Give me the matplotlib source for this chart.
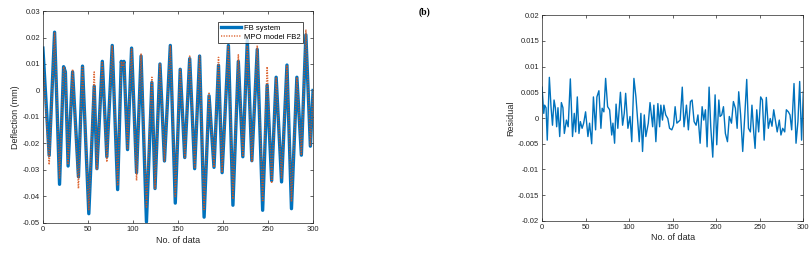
import matplotlib
matplotlib.use("Agg")
import matplotlib.pyplot as plt
from matplotlib.ticker import FuncFormatter

plt.rcParams['font.family'] = ['Liberation Sans', 'DejaVu Sans']
plt.rcParams['axes.unicode_minus'] = False

# ---- Panel (a): deflection (extrema) ----
fb_x = [0, 7, 13, 18.5, 23, 25, 28, 33, 39.5, 44, 51, 57, 60, 66, 71, 77, 83, 87, 88.5, 90,
        94, 98.5, 104, 109, 115, 121, 124.5, 130, 135, 141.5, 147, 152.5, 157.5, 163, 168.5,
        174, 179, 184.5, 190, 195, 199, 206, 211, 217, 222, 227, 232, 238, 244, 249, 254,
        259, 265, 271, 276, 282, 287, 292, 297, 300]
fb_system = [0.016, -0.0245, 0.022, -0.0354, 0.009, 0.007, -0.0285, 0.007, -0.0326, 0.0092,
             -0.0465, 0.0016, -0.0295, 0.011, -0.025, 0.017, -0.0374, 0.011, 0.009, 0.011,
             -0.0223, 0.016, -0.031, 0.013, -0.0496, 0.003, -0.037, 0.010, -0.0266, 0.017,
             -0.0425, 0.008, -0.0253, 0.012, -0.0295, 0.013, -0.0478, -0.002, -0.029, 0.0095,
             -0.031, 0.017, -0.0433, 0.011, -0.025, 0.019, -0.0265, 0.0155, -0.0452, 0.002,
             -0.034, 0.005, -0.0345, 0.0096, -0.0446, 0.005, -0.0244, 0.021, -0.021, 0.0]
mpo_model = [0.012, -0.028, 0.022, -0.033, 0.009, 0.007, -0.028, 0.008, -0.037, 0.0092,
             -0.045, 0.007, -0.030, 0.011, -0.027, 0.017, -0.036, 0.011, 0.009, 0.011,
             -0.0223, 0.016, -0.034, 0.014, -0.044, 0.005, -0.037, 0.010, -0.0266, 0.017,
             -0.040, 0.008, -0.0253, 0.013, -0.0295, 0.013, -0.045, -0.001, -0.029, 0.0125,
             -0.031, 0.017, -0.041, 0.0135, -0.025, 0.017, -0.027, 0.017, -0.042, 0.009,
             -0.035, 0.005, -0.033, 0.0096, -0.042, 0.005, -0.0244, 0.023, -0.021, 0.0]

# ---- Panel (b): residual ----
res_x = [0, 2, 3, 4.6, 6, 8.4, 10.3, 12, 13.8, 15.3, 16.8, 18.3, 20.3, 22.2, 24, 25.6, 28, 30,
         32.5, 35, 37, 38.6, 40.5, 42.4, 44, 46, 47.8, 50, 52.7, 54.6, 57, 59, 61.5, 63, 65.3,
         67.6, 69, 71, 73, 75.3, 77.6, 80, 81.4, 83.3, 85, 87, 90, 92.5, 94.4, 96, 98.6, 101,
         103, 105.5, 107.8, 109.7, 111.6, 113.5, 115.4, 117.4, 119.2, 122, 124, 127, 128.4,
         130.7, 133, 135, 136.4, 138.3, 139.9, 142, 144.4, 146.4, 149, 151, 152.8, 154.8,
         156.7, 158.6, 161, 163, 165.8, 168, 170.4, 172.3, 174.6, 176.9, 179, 181.5, 183.8,
         185.7, 187.6, 189.5, 191.8, 193.7, 196, 198.7, 200.6, 203, 204.4, 206.3, 208.3,
         210.5, 212.9, 215, 217.5, 219.7, 222, 224, 225.8, 228, 230.4, 232.7, 235, 237,
         239.2, 241, 243, 244.6, 246.5, 248.7, 251, 253, 255, 257.5, 259.8, 262, 264, 266,
         268.2, 270, 272.4, 274.3, 276.3, 278.6, 280.5, 282.8, 284.7, 286.6, 289.3, 291.6,
         293.8, 295.8, 298, 300]
residual = [0.006, 0.0009, 0.0025, 0.002, -0.0043, 0.0079, 0.0022, -0.0014, 0.0035, 0.002,
            -0.0017, 0.002, -0.0036, 0.003, 0.002, -0.003, -0.0004, -0.0017, 0.0076, -0.0036,
            0.0009, -0.0027, 0.0041, -0.003, -0.0007, -0.002, -0.001, 0.0012, -0.0036, -0.001,
            -0.005, 0.0041, -0.0023, 0.0041, 0.0053, -0.002, 0.0019, 0.0012, 0.0077, 0.0022,
            0.0016, -0.0033, -0.001, -0.0049, 0.0027, -0.002, 0.005, -0.0014, 0.0009, 0.0048,
            -0.002, 0.0003, -0.0046, 0.0077, 0.0041, -0.0004, -0.0046, 0.0009, -0.0065, 0.0006,
            -0.0036, -0.001, 0.003, -0.0017, 0.0025, -0.0046, 0.0028, -0.0017, 0.0025, -0.0004,
            0.0025, 0.0006, -0.0001, -0.002, -0.0023, -0.0014, 0.0022, -0.001, -0.0007, -0.0004,
            0.006, -0.0017, 0.0025, -0.0023, 0.0032, 0.0035, -0.0007, -0.0014, 0.0006, -0.0049,
            0.0022, -0.0004, 0.0016, -0.0056, 0.006, -0.0017, -0.0076, 0.0045, -0.0052, 0.0035,
            0.0003, 0.0006, 0.0022, -0.003, -0.0046, 0.0003, -0.001, 0.0032, 0.0019, -0.002,
            0.0051, 0.0006, -0.0065, 0.0003, 0.0075, -0.002, -0.0027, 0.0025, -0.0027, -0.0059,
            0.0016, -0.0027, 0.0041, 0.0035, -0.0043, 0.004, -0.002, -0.0001, -0.0016, 0.0016,
            -0.0007, -0.0027, -0.0004, -0.0033, -0.002, -0.0027, 0.0016, 0.0012, 0.0006,
            -0.0023, 0.0067, -0.0049, -0.0007, 0.0071, -0.0043, 0.0051]

left_yticks = [-0.05, -0.04, -0.03, -0.02, -0.01, 0, 0.01, 0.02, 0.03]
right_yticks = [-0.02, -0.015, -0.01, -0.005, 0, 0.005, 0.01, 0.015, 0.02]
xticks = [0, 50, 100, 150, 200, 250, 300]

BLUE = '#0072BD'
ORANGE = '#D95319'
TXT = '#262626'
EDGE = '#262626'

fig = plt.figure(figsize=(8.09, 2.56), dpi=100)

def style(ax):
    ax.tick_params(direction='in', length=2.5, width=0.5, labelsize=5.5, colors=TXT,
                   top=True, right=True, pad=2)
    for s in ax.spines.values():
        s.set_linewidth(0.5)
        s.set_color(EDGE)
    ax.set_xticks(xticks)
    ax.xaxis.set_major_formatter(FuncFormatter(lambda v, p: '%g' % v))
    ax.yaxis.set_major_formatter(FuncFormatter(lambda v, p: '0' if abs(v) < 1e-12 else '%g' % v))

ax1 = fig.add_axes([0.053, 0.129, 0.334, 0.828])
ax1.plot(fb_x, fb_system, color=BLUE, lw=2.4, label='FB system')
ax1.plot(fb_x, mpo_model, color=ORANGE, lw=1.1, linestyle=(0, (0.8, 0.9)), alpha=0.85,
         label='MPO model FB2')
ax1.set_xlim(0, 300)
ax1.set_ylim(-0.05, 0.03)
ax1.set_yticks(left_yticks)
style(ax1)
ax1.set_xlabel('No. of data', fontsize=6.5, color=TXT, labelpad=2)
ax1.set_ylabel('Deflection (mm)', fontsize=6.5, color=TXT, labelpad=2)
leg = ax1.legend(loc='upper right', fontsize=5.5, frameon=True, fancybox=False,
                 edgecolor='black', borderpad=0.3, handlelength=2.6, labelspacing=0.2,
                 handletextpad=0.4, bbox_to_anchor=(0.975, 0.965))
leg.get_frame().set_linewidth(0.6)

ax2 = fig.add_axes([0.670, 0.137, 0.323, 0.804])
ax2.plot(res_x, residual, color=BLUE, lw=1.0)
ax2.set_xlim(0, 300)
ax2.set_ylim(-0.02, 0.02)
ax2.set_yticks(right_yticks)
style(ax2)
ax2.set_xlabel('No. of data', fontsize=6.5, color=TXT, labelpad=2)
ax2.set_ylabel('Residual', fontsize=6.5, color=TXT, labelpad=2)

fig.text(0.525, 0.953, '(b)', fontsize=7, fontweight='bold', family=['Liberation Serif'],
         ha='center', va='center')

fig.savefig('out.png', dpi=100)
